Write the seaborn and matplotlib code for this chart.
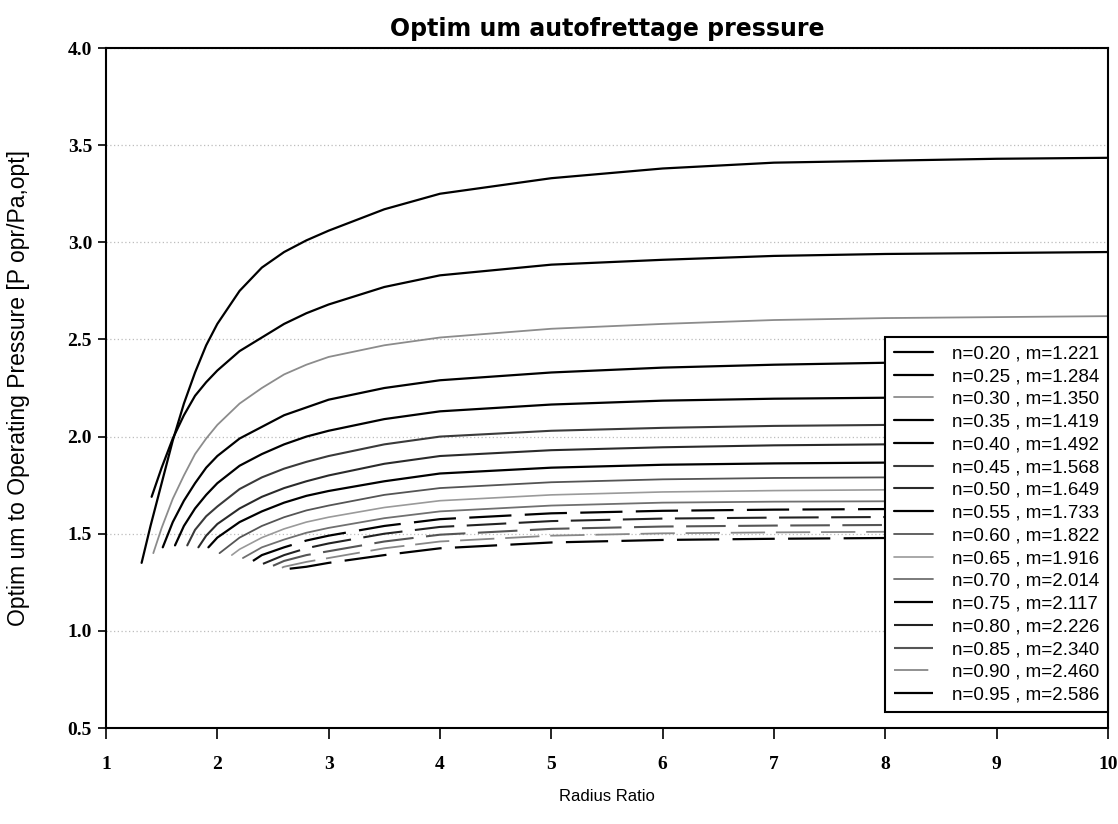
import numpy as np
import pandas as pd
import matplotlib
matplotlib.use('Agg')
import matplotlib.pyplot as plt
import seaborn as sns

sns.set_style('ticks')
plt.rcParams['font.family'] = ['Liberation Sans', 'DejaVu Sans']
plt.rcParams['text.color'] = 'black'
plt.rcParams['axes.labelcolor'] = 'black'
plt.rcParams['xtick.color'] = 'black'
plt.rcParams['ytick.color'] = 'black'

# radius ratio grid (x)
radius = [1.4, 1.5, 1.6, 1.7, 1.8, 1.9, 2.0, 2.2, 2.4, 2.6, 2.8, 3.0, 3.5, 4.0,
          5.0, 6.0, 7.0, 8.0, 9.0, 10.0]

n_vals = ['0.20', '0.25', '0.30', '0.35', '0.40', '0.45', '0.50', '0.55',
          '0.60', '0.65', '0.70', '0.75', '0.80', '0.85', '0.90', '0.95']
m_vals = ['1.221', '1.284', '1.350', '1.419', '1.492', '1.568', '1.649', '1.733',
          '1.822', '1.916', '2.014', '2.117', '2.226', '2.340', '2.460', '2.586']

# first point of every curve
start_x = [1.32, 1.41, 1.425, 1.51, 1.62, 1.73, 1.83, 1.92, 2.02, 2.13, 2.23, 2.32, 2.41, 2.50, 2.58, 2.65]
start_y = [1.35, 1.69, 1.40, 1.43, 1.44, 1.44, 1.43, 1.43, 1.40, 1.39, 1.375, 1.36, 1.345, 1.335, 1.325, 1.32]

N = None
# optimum pressure ratio on the radius grid (None = before the curve starts)
#       1.4   1.5   1.6   1.7   1.8   1.9   2.0   2.2   2.4   2.6   2.8   3.0   3.5   4.0   5.0    6.0   7.0    8.0    9.0    10
p020 = [1.54, 1.76, 1.98, 2.17, 2.33, 2.47, 2.58, 2.75, 2.87, 2.95, 3.01, 3.06, 3.17, 3.25, 3.33, 3.38, 3.41, 3.42, 3.43, 3.435]
p025 = [N, 1.84, 1.99, 2.11, 2.21, 2.28, 2.34, 2.44, 2.51, 2.58, 2.635, 2.68, 2.77, 2.83, 2.885, 2.91, 2.93, 2.94, 2.945, 2.95]
p030 = [N, 1.53, 1.68, 1.80, 1.91, 1.99, 2.06, 2.17, 2.25, 2.32, 2.37, 2.41, 2.47, 2.51, 2.555, 2.58, 2.60, 2.61, 2.615, 2.62]
p035 = [N, N, 1.56, 1.67, 1.76, 1.84, 1.90, 1.99, 2.05, 2.11, 2.15, 2.19, 2.25, 2.29, 2.33, 2.355, 2.37, 2.38, 2.385, 2.39]
p040 = [N, N, N, 1.54, 1.63, 1.70, 1.76, 1.85, 1.91, 1.96, 2.00, 2.03, 2.09, 2.13, 2.165, 2.185, 2.195, 2.20, 2.205, 2.21]
p045 = [N, N, N, N, 1.52, 1.59, 1.64, 1.73, 1.79, 1.835, 1.87, 1.90, 1.96, 2.00, 2.03, 2.045, 2.055, 2.06, 2.065, 2.07]
p050 = [N, N, N, N, N, 1.49, 1.55, 1.63, 1.69, 1.735, 1.77, 1.80, 1.86, 1.90, 1.93, 1.945, 1.955, 1.96, 1.965, 1.97]
p055 = [N, N, N, N, N, N, 1.48, 1.56, 1.615, 1.66, 1.695, 1.72, 1.77, 1.81, 1.84, 1.855, 1.862, 1.866, 1.87, 1.872]
p060 = [N, N, N, N, N, N, N, 1.48, 1.54, 1.585, 1.62, 1.645, 1.70, 1.735, 1.765, 1.78, 1.787, 1.79, 1.793, 1.795]
p065 = [N, N, N, N, N, N, N, 1.42, 1.48, 1.525, 1.56, 1.585, 1.635, 1.67, 1.70, 1.715, 1.722, 1.726, 1.729, 1.731]
p070 = [N, N, N, N, N, N, N, N, 1.43, 1.47, 1.505, 1.53, 1.58, 1.615, 1.645, 1.66, 1.665, 1.667, 1.67, 1.672]
p075 = [N, N, N, N, N, N, N, N, 1.39, 1.43, 1.465, 1.49, 1.54, 1.575, 1.605, 1.618, 1.624, 1.627, 1.63, 1.632]
p080 = [N, N, N, N, N, N, N, N, N, 1.39, 1.425, 1.45, 1.50, 1.535, 1.565, 1.578, 1.583, 1.586, 1.588, 1.59]
p085 = [N, N, N, N, N, N, N, N, N, 1.36, 1.39, 1.41, 1.46, 1.495, 1.525, 1.537, 1.542, 1.545, 1.547, 1.549]
p090 = [N, N, N, N, N, N, N, N, N, 1.33, 1.355, 1.375, 1.425, 1.46, 1.49, 1.502, 1.507, 1.51, 1.512, 1.514]
p095 = [N, N, N, N, N, N, N, N, N, N, 1.33, 1.35, 1.39, 1.425, 1.455, 1.468, 1.474, 1.478, 1.48, 1.482]

curves = [p020, p025, p030, p035, p040, p045, p050, p055,
          p060, p065, p070, p075, p080, p085, p090, p095]

colors = ['black', 'black', '#8c8c8c', 'black', 'black', '#3a3a3a', '#2a2a2a', 'black',
          '#555555', '#9a9a9a', '#707070', 'black', '#222222', '#555555', '#888888', 'black']
widths = [1.6, 1.6, 1.3, 1.6, 1.6, 1.5, 1.5, 1.6, 1.3, 1.2, 1.3, 1.6, 1.5, 1.5, 1.3, 1.6]
dash = (0, (19, 6))
styles = ['-'] * 11 + [dash] * 5

fig, ax = plt.subplots(figsize=(11.18, 8.24), dpi=100)
fig.subplots_adjust(left=0.0948, right=0.991, bottom=0.1165, top=0.9417)

for i, ys in enumerate(curves):
    xs = [start_x[i]] + [x for x, y in zip(radius, ys) if y is not None]
    yv = [start_y[i]] + [y for y in ys if y is not None]
    sns.lineplot(x=xs, y=yv, ax=ax, color=colors[i], linewidth=widths[i],
                 linestyle=styles[i], estimator=None, sort=False,
                 label=f'n={n_vals[i]} , m={m_vals[i]}')

ax.set_xlim(1, 10)
ax.set_ylim(0.5, 4.0)
ax.set_xticks(range(1, 11))
ax.set_yticks(np.arange(0.5, 4.01, 0.5))
ax.yaxis.set_major_formatter(matplotlib.ticker.FormatStrFormatter('%.1f'))
ax.tick_params(axis='x', length=8, width=1.2, pad=12, direction='out')
ax.tick_params(axis='y', length=6, width=1.2, pad=4, direction='out')
for lab in ax.get_xticklabels() + ax.get_yticklabels():
    lab.set_fontfamily('Liberation Serif')
    lab.set_fontweight('bold')
    lab.set_fontsize(14)

ax.yaxis.grid(True, linestyle=(0, (1, 2)), color='#bdbdbd', linewidth=0.9)
ax.xaxis.grid(False)
for sp in ax.spines.values():
    sp.set_visible(True)
    sp.set_color('black')
    sp.set_linewidth(1.5)

ax.set_title('Optim um autofrettage pressure', fontsize=17, fontweight='bold',
             family='DejaVu Sans', pad=9, color='black')
ax.set_xlabel('Radius Ratio', fontsize=12, labelpad=12)
ax.set_ylabel('Optim um to Operating Pressure [P opr/Pa,opt]', fontsize=16.5)
ax.yaxis.set_label_coords(-0.076, 0.5)

leg = ax.legend(loc='lower right', bbox_to_anchor=(1.0, 0.0235), frameon=True,
                fancybox=False, edgecolor='black', framealpha=1,
                prop={'family': 'Liberation Sans', 'size': 13.5},
                labelspacing=0.3, handlelength=2.1, handletextpad=1.0,
                borderpad=0.45, borderaxespad=0)
leg.get_frame().set_linewidth(1.5)

plt.savefig('out.png', dpi=100)
